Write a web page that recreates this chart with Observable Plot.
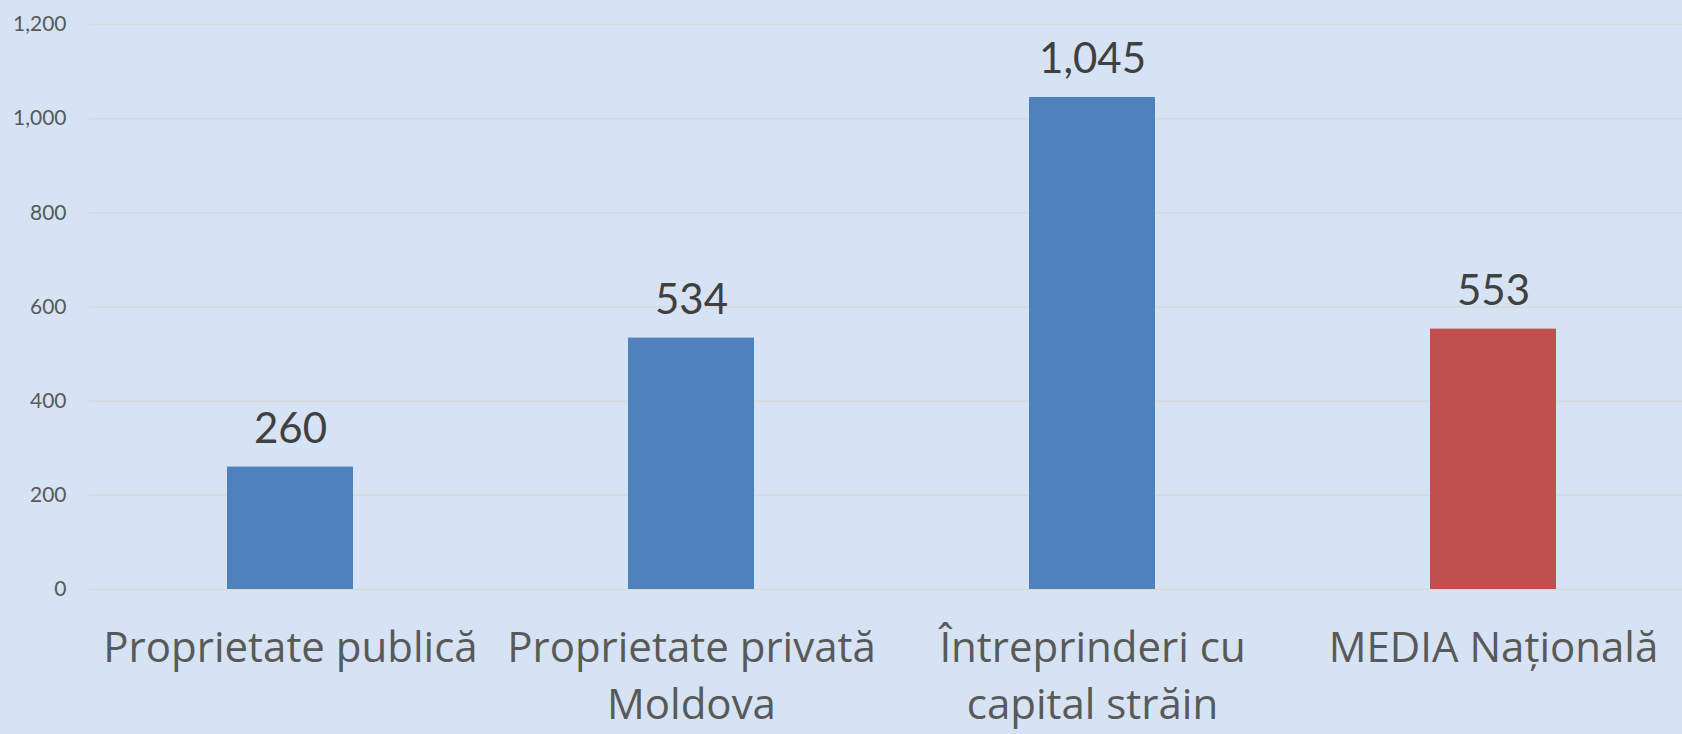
<!DOCTYPE html>
<html>
<head>
<meta charset="utf-8">
<script src="https://cdn.jsdelivr.net/npm/d3@7"></script>
<script src="https://cdn.jsdelivr.net/npm/@observablehq/plot@0.6"></script>
<style>
  html, body { margin: 0; padding: 0; background: #D6E3F4; }
  #chart svg { display: block; }
</style>
</head>
<body>
<div id="chart"></div>
<script>
const categories = ["Proprietate publică", "Proprietate privată Moldova", "Întreprinderi cu capital străin", "MEDIA Națională"];
const tickLabels = ["Proprietate publică", "Proprietate privată\nMoldova", "Întreprinderi cu\ncapital străin", "MEDIA Națională"];
const values = [260, 534, 1045, 553];
const barColors = ["#4F81BD", "#4F81BD", "#4F81BD", "#C0504D"];
const yTicks = [0, 200, 400, 600, 800, 1000, 1200];

const data = categories.map((c, i) => ({category: c, value: values[i], color: barColors[i]}));
const labelOf = new Map(categories.map((c, i) => [c, tickLabels[i]]));
const fmt = d3.format(",");

const chart = Plot.plot({
  width: 1682,
  height: 734,
  marginLeft: 89,
  marginRight: 0,
  marginTop: 24,
  marginBottom: 145,
  style: {background: "#D6E3F4", fontFamily: "Lato, 'Open Sans', sans-serif"},
  x: {type: "band", domain: categories, range: [89, 1693], paddingInner: 0.686, paddingOuter: 0.343, align: 0.5},
  y: {domain: [0, 1200]},
  marks: [
    Plot.gridY(yTicks, {stroke: "#D9D9D9", strokeOpacity: 1, strokeWidth: 1.5}),
    Plot.barY(data, {x: "category", y: "value", fill: "color"}),
    Plot.text(data, {x: "category", y: "value", text: d => fmt(d.value), lineAnchor: "bottom", dy: -24, fontSize: 42, fill: "#404040"}),
    Plot.axisY({ticks: yTicks, tickFormat: fmt, tickSize: 0, tickPadding: 23, fontSize: 21, color: "#595959", label: null}),
    Plot.axisX({tickSize: 0, tickPadding: 32, fontSize: 42, lineHeight: 1.36, color: "#595959", fontFamily: "'Open Sans', Lato, sans-serif", tickFormat: d => labelOf.get(d), label: null})
  ]
});
document.getElementById("chart").appendChild(chart);
</script>
</body>
</html>
